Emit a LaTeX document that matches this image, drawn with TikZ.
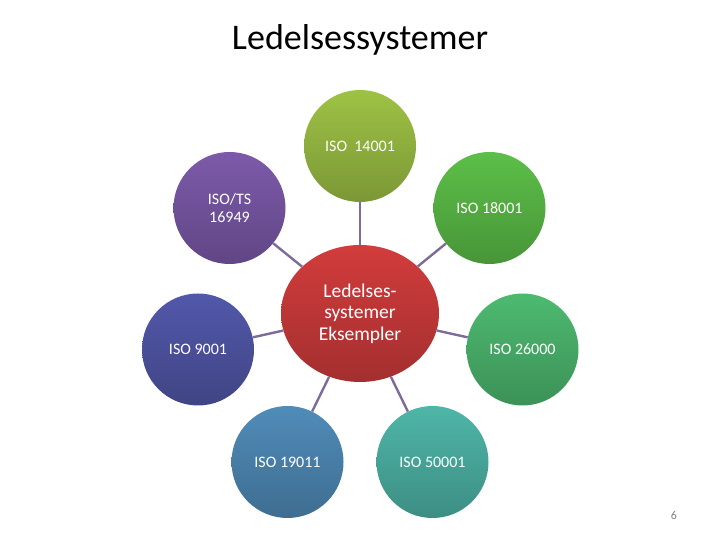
\documentclass[tikz,border=0pt]{standalone}
\usepackage{fontspec}
\setmainfont{Carlito}
\usetikzlibrary{positioning, shapes.geometric}
\definecolor{linkgray}{HTML}{7D6B9B}
\definecolor{hubred}{HTML}{D23C3C}
\definecolor{isogreenyellow}{HTML}{9EC245}
\definecolor{isogreen}{HTML}{5CBF48}
\definecolor{isoseagreen}{HTML}{4DBA70}
\definecolor{isoteal}{HTML}{4EB6A8}
\definecolor{isoblue}{HTML}{508CB9}
\definecolor{isoindigo}{HTML}{5258AA}
\definecolor{isopurple}{HTML}{7C5AAA}
\tikzset{
    hub/.style={ellipse, minimum width=158pt, minimum height=137pt, inner sep=0pt,
        top color=#1, bottom color=#1!78!black, text=white, align=center,
        font=\fontsize{19.5}{21.5}\selectfont},
    satellite/.style={circle, minimum size=112pt, inner sep=0pt,
        top color=#1, bottom color=#1!78!black, text=white, align=center,
        font=\fontsize{16}{17.5}\selectfont},
    link/.style={draw=linkgray, line width=2.4pt}
}

\begin{document}
\begin{tikzpicture}[x=1pt, y=1pt]
    \useasboundingbox (0,0) rectangle (720,540);
    % Title
    \node[anchor=base, font=\fontsize{36}{42}\selectfont] (title) at (360,490) {Ledelsessystemer};
    % Centre
    \node[hub=hubred] (hub) at (360,226.5) {Ledelses-\\systemer\\Eksempler};
    % Ring of standards
    \node[satellite=isogreenyellow] (s14001) at (360,394) {ISO~~14001};
    \node[satellite=isogreen] (s18001) at (489.5,332) {ISO 18001};
    \node[satellite=isoseagreen] (s26000) at (522.5,190.5) {ISO 26000};
    \node[satellite=isoteal] (s50001) at (432.5,78) {ISO 50001};
    \node[satellite=isoblue] (s19011) at (287.5,78) {ISO 19011};
    \node[satellite=isoindigo] (s9001) at (198,190.5) {ISO 9001};
    \node[satellite=isopurple] (sts) at (229.5,332) {ISO/TS\\16949};
    % Links
    \draw[link] (hub) -- (s14001);
    \draw[link] (hub) -- (s18001);
    \draw[link] (hub) -- (s26000);
    \draw[link] (hub) -- (s50001);
    \draw[link] (hub) -- (s19011);
    \draw[link] (hub) -- (s9001);
    \draw[link] (hub) -- (sts);
    % Page number
    \node[text=gray, font=\fontsize{12}{14}\selectfont] (page) at (674,25) {6};
\end{tikzpicture}
\end{document}
